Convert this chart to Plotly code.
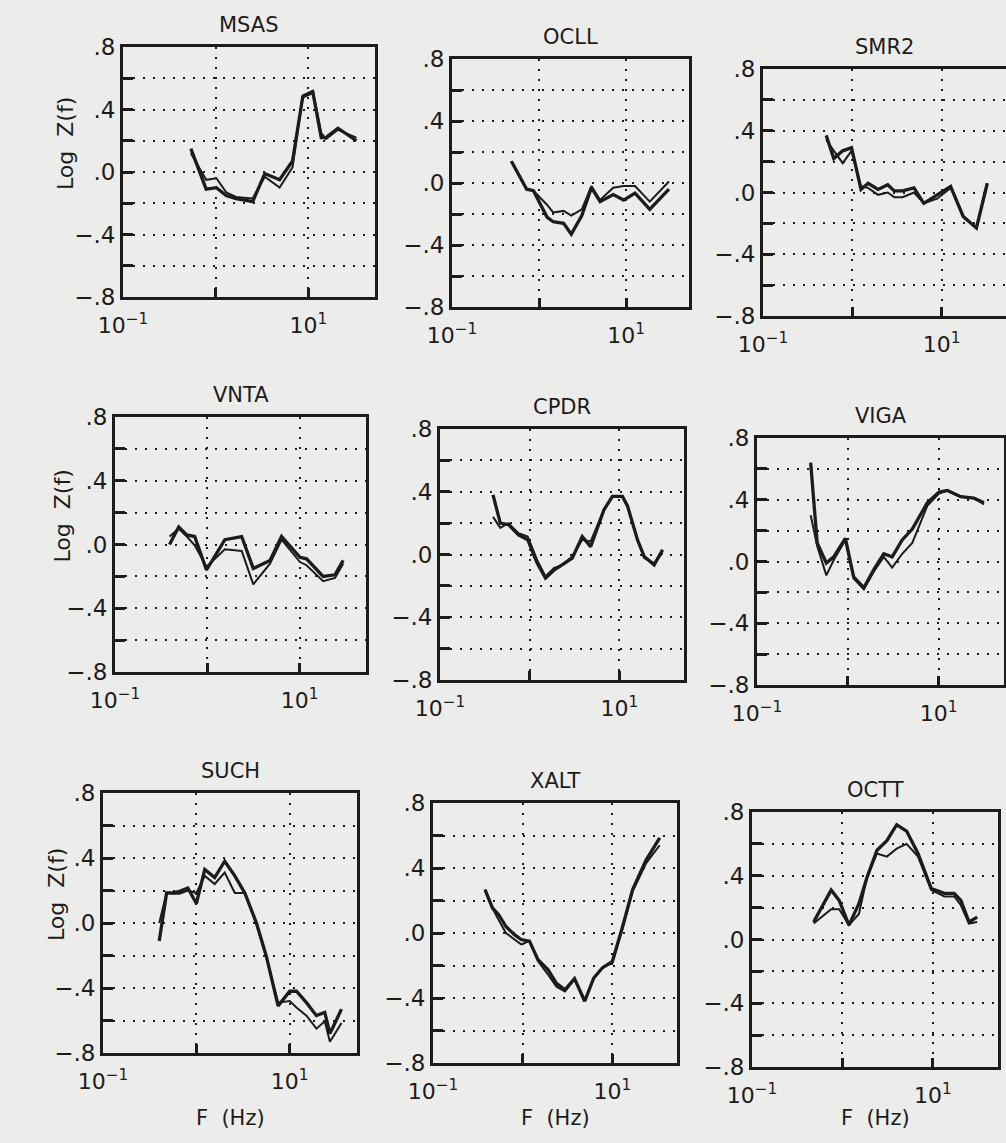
import plotly.graph_objects as go

# ---------------- data ----------------
stations = ["MSAS", "OCLL", "SMR2", "VNTA", "CPDR", "VIGA", "SUCH", "XALT", "OCTT"]

msas_f = [0.54, 0.79, 1.02, 1.30, 1.66, 2.51, 3.39, 4.90, 6.76, 8.71, 11.2, 13.8, 15.5, 20.9, 33.1]
msas_a = [0.15, -0.11, -0.10, -0.15, -0.17, -0.19, -0.01, -0.05, 0.07, 0.48, 0.51, 0.22, 0.22, 0.28, 0.20]
msas_b = [0.12, -0.05, -0.04, -0.13, -0.16, -0.17, -0.03, -0.10, 0.03, 0.49, 0.52, 0.25, 0.21, 0.27, 0.22]

ocll_f = [0.48, 0.72, 0.86, 1.23, 1.45, 1.91, 2.34, 3.09, 3.98, 5.01, 7.08, 9.33, 12.6, 18.6, 30.9]
ocll_a = [0.14, -0.04, -0.05, -0.22, -0.25, -0.26, -0.33, -0.21, -0.03, -0.12, -0.075, -0.11, -0.065, -0.17, -0.04]
ocll_b = [0.14, -0.04, -0.05, -0.14, -0.19, -0.18, -0.21, -0.17, -0.02, -0.11, -0.03, -0.02, -0.02, -0.12, 0.01]

smr2_f = [0.51, 0.62, 0.78, 0.98, 1.25, 1.50, 1.94, 2.49, 2.95, 3.65, 4.90, 6.31, 8.91, 12.6, 17.4, 24.5, 32.4]
smr2_a = [0.37, 0.22, 0.27, 0.29, 0.02, 0.06, 0.02, 0.05, 0.01, 0.01, 0.03, -0.07, -0.015, 0.04, -0.155, -0.23, 0.06]
smr2_b = [0.34, 0.27, 0.19, 0.27, 0.04, 0.03, -0.015, 0.0, -0.03, -0.03, 0.0, -0.07, -0.04, 0.03, -0.15, -0.23, 0.06]

vnta_f = [0.39, 0.49, 0.60, 0.73, 0.98, 1.55, 2.36, 3.15, 4.78, 6.38, 10.1, 11.9, 18.0, 24.2, 29.7]
vnta_a = [0.0, 0.11, 0.06, 0.05, -0.16, 0.03, 0.05, -0.15, -0.10, 0.05, -0.08, -0.09, -0.20, -0.19, -0.10]
vnta_b = [0.05, 0.10, 0.05, -0.005, -0.14, -0.03, -0.04, -0.25, -0.12, 0.03, -0.11, -0.13, -0.23, -0.21, -0.12]

cpdr_f = [0.39, 0.47, 0.58, 0.75, 0.95, 1.21, 1.50, 1.86, 2.30, 2.98, 3.85, 4.78, 6.73, 8.36, 10.8, 12.3, 15.9, 18.9, 24.4, 30.3]
cpdr_a = [0.38, 0.20, 0.19, 0.125, 0.094, -0.055, -0.15, -0.10, -0.066, -0.023, 0.115, 0.05, 0.285, 0.37, 0.37, 0.31, 0.094, -0.013, -0.066, 0.03]
cpdr_b = [0.24, 0.17, 0.20, 0.136, 0.115, -0.034, -0.14, -0.087, -0.066, -0.013, 0.094, 0.083, 0.285, 0.37, 0.37, 0.31, 0.094, -0.023, -0.055, 0.01]

viga_f = [0.39, 0.46, 0.58, 0.70, 0.94, 1.16, 1.50, 1.94, 2.49, 3.08, 3.97, 5.13, 7.50, 10.1, 12.5, 17.5, 24.5, 31.6]
viga_a = [0.64, 0.12, -0.01, 0.03, 0.15, -0.10, -0.17, -0.05, 0.05, 0.03, 0.14, 0.21, 0.38, 0.45, 0.46, 0.42, 0.41, 0.38]
viga_b = [0.30, 0.10, -0.09, 0.01, 0.14, -0.11, -0.18, -0.065, 0.03, -0.04, 0.05, 0.12, 0.36, 0.44, 0.46, 0.42, 0.41, 0.37]

such_f = [0.40, 0.48, 0.56, 0.66, 0.81, 1.00, 1.23, 1.57, 2.01, 2.58, 3.30, 4.40, 5.62, 7.50, 10.0, 11.8, 15.1, 19.3, 23.7, 26.9, 29.1, 35.8]
such_a = [-0.11, 0.185, 0.185, 0.195, 0.215, 0.12, 0.33, 0.28, 0.38, 0.29, 0.185, 0.0, -0.205, -0.51, -0.42, -0.42, -0.49, -0.57, -0.55, -0.68, -0.64, -0.53]
such_b = [0.0, 0.185, 0.18, 0.18, 0.20, 0.185, 0.29, 0.24, 0.31, 0.185, 0.185, -0.01, -0.215, -0.49, -0.48, -0.52, -0.57, -0.65, -0.605, -0.73, -0.70, -0.615]

xalt_f = [0.38, 0.46, 0.54, 0.65, 0.81, 0.96, 1.19, 1.48, 1.92, 2.38, 2.96, 3.78, 4.91, 6.19, 7.71, 10.0, 13.0, 16.8, 23.8, 33.7]
xalt_a = [0.267, 0.154, 0.113, 0.04, -0.01, -0.04, -0.05, -0.164, -0.226, -0.31, -0.35, -0.28, -0.42, -0.277, -0.215, -0.174, 0.04, 0.267, 0.45, 0.585]
xalt_b = [0.267, 0.154, 0.08, 0.0, -0.04, -0.07, -0.05, -0.174, -0.256, -0.33, -0.36, -0.285, -0.41, -0.28, -0.215, -0.185, 0.03, 0.256, 0.43, 0.54]

octt_f = [0.48, 0.75, 0.92, 1.18, 1.52, 1.87, 2.41, 3.10, 3.98, 5.12, 6.85, 9.59, 13.4, 17.2, 20.4, 25.1, 30.9]
octt_a = [0.11, 0.31, 0.245, 0.09, 0.225, 0.39, 0.56, 0.62, 0.72, 0.68, 0.54, 0.32, 0.29, 0.29, 0.245, 0.11, 0.14]
octt_b = [0.10, 0.19, 0.19, 0.09, 0.16, 0.39, 0.54, 0.52, 0.57, 0.60, 0.52, 0.31, 0.27, 0.27, 0.215, 0.10, 0.11]

freqs = [msas_f, ocll_f, smr2_f, vnta_f, cpdr_f, viga_f, such_f, xalt_f, octt_f]
series_a = [msas_a, ocll_a, smr2_a, vnta_a, cpdr_a, viga_a, such_a, xalt_a, octt_a]
series_b = [msas_b, ocll_b, smr2_b, vnta_b, cpdr_b, viga_b, such_b, xalt_b, octt_b]

y_tickvals = [-0.8, -0.4, 0.0, 0.4, 0.8]
y_ticktext = ["\u2212.8", "\u2212.4", ".0", ".4", ".8"]
y_minor_vals = [-0.6, -0.2, 0.2, 0.6]
x_tickvals = [0.1, 10]
x_ticktext = ["10<sup>\u22121</sup>", "10<sup>1</sup>"]
x_minor_vals = [1]
y_title = "Log  Z(f)"
x_title = "F  (Hz)"

# ---------------- layout geometry (pixels) ----------------
W, H = 1006, 1143
# left, right, top, bottom of each plot frame
boxes = [
    (123, 375, 47, 297), (452, 689, 59, 307), (763, 1006, 69, 316),
    (115, 366, 417, 672), (440, 684, 429, 680), (757, 1004, 438, 685),
    (103, 357, 793, 1053), (433, 677, 803, 1063), (752, 998, 812, 1067),
]
ytitle_x = [66, 62, 56]   # x position of the rotated y title, per row

INK = "#1c1c1c"
BG = "#ececea"
FONT = "DejaVu Sans"
DOTS = "2.4px,7.6px"

fig = go.Figure()
layout = dict(
    width=W, height=H, margin=dict(l=0, r=0, t=0, b=0, autoexpand=False),
    paper_bgcolor=BG, plot_bgcolor=BG, showlegend=False,
    font=dict(family=FONT, color=INK, size=19),
)
annotations = []

for i, name in enumerate(stations):
    l, r, t, b = boxes[i]
    k = "" if i == 0 else str(i + 1)
    xa, ya = "x" + k, "y" + k
    for ys, wdt in ((series_a[i], 3.3), (series_b[i], 2.0)):
        fig.add_trace(go.Scatter(
            x=freqs[i], y=ys, mode="lines", xaxis=xa, yaxis=ya,
            line=dict(color=INK, width=wdt), hoverinfo="skip"))
    layout["xaxis" + k] = dict(
        type="log", range=[-1, 1.72], domain=[l / W, min(r / W, 1.0)],
        anchor=ya, tickvals=x_tickvals, ticktext=x_ticktext,
        ticks="inside", ticklen=9, tickwidth=2.5, tickcolor=INK,
        ticklabelstandoff=7,
        showline=True, linewidth=3, linecolor=INK, mirror=True,
        showgrid=True, gridcolor=INK, gridwidth=2.4, griddash=DOTS,
        minor=dict(tickvals=x_minor_vals, ticks="inside", ticklen=9,
                   tickwidth=2.5, tickcolor=INK, showgrid=True,
                   gridcolor=INK, gridwidth=2.4, griddash=DOTS),
        zeroline=False, automargin=False,
        tickfont=dict(size=22, family=FONT, color=INK),
        fixedrange=True,
    )
    layout["yaxis" + k] = dict(
        range=[-0.8, 0.8], domain=[1 - b / H, 1 - t / H],
        anchor=xa, tickvals=y_tickvals, ticktext=y_ticktext,
        ticks="inside", ticklen=10, tickwidth=2.5, tickcolor=INK,
        showline=True, linewidth=3, linecolor=INK, mirror=True,
        showgrid=True, gridcolor=INK, gridwidth=2.4, griddash=DOTS,
        minor=dict(tickvals=y_minor_vals, ticks="inside", ticklen=10,
                   tickwidth=2.5, tickcolor=INK, showgrid=True,
                   gridcolor=INK, gridwidth=2.4, griddash=DOTS),
        zeroline=False, automargin=False,
        tickfont=dict(size=23, family=FONT, color=INK),
        fixedrange=True,
    )
    # panel title
    annotations.append(dict(
        text=name, xref="paper", yref="paper",
        x=(l + r) / 2 / W, y=1 - t / H, xanchor="center", yanchor="bottom",
        yshift=8, showarrow=False, font=dict(size=21, family=FONT, color=INK)))
    # y-axis title on left column
    if i % 3 == 0:
        annotations.append(dict(
            text=y_title, xref="paper", yref="paper", textangle=-90,
            x=ytitle_x[i // 3] / W, y=1 - (t + b) / 2 / H, yshift=28,
            xanchor="center", yanchor="middle",
            showarrow=False, font=dict(size=22, family=FONT, color=INK)))
    # x-axis title on bottom row
    if i >= 6:
        annotations.append(dict(
            text=x_title, xref="paper", yref="paper",
            x=(l + r) / 2 / W, y=1 - 1118 / H, xanchor="center", yanchor="middle",
            showarrow=False, font=dict(size=21, family=FONT, color=INK)))

layout["annotations"] = annotations
fig.update_layout(**layout)
fig.write_html("out.html")
